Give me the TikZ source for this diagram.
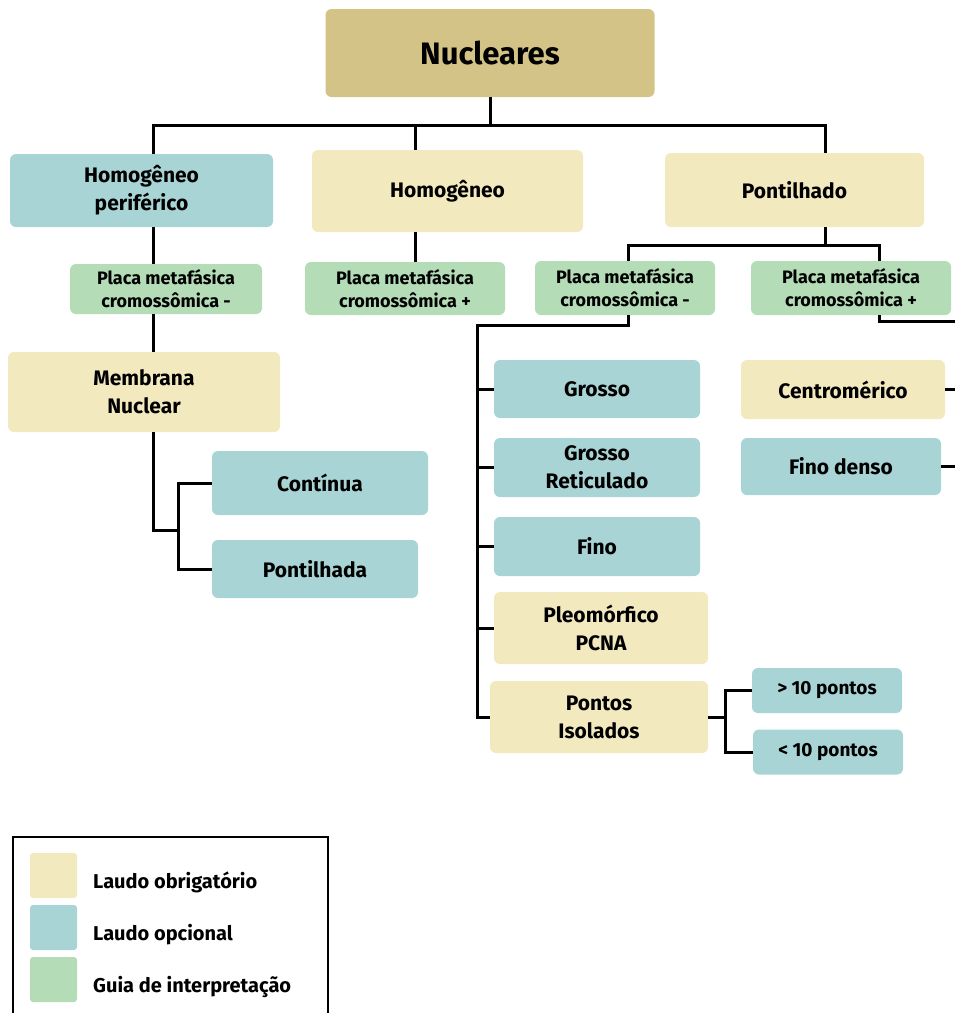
\documentclass[tikz,border=0pt]{standalone}
\usepackage{fontspec}
\setmainfont{Fira Sans}
\usetikzlibrary{calc}

\definecolor{nucfill}{HTML}{D4C387}
\definecolor{obrigfill}{HTML}{F3E9BE}
\definecolor{opcfill}{HTML}{A9D4D6}
\definecolor{guiafill}{HTML}{B3DCB7}

\tikzset{
  sz/.style 2 args={minimum width=#1pt,minimum height=#2pt},
  box/.style={rounded corners=6pt,align=center,inner sep=0pt,
    font=\bfseries\fontsize{21}{28}\selectfont},
  nucbox/.style={box,fill=nucfill,font=\bfseries\fontsize{31}{36}\selectfont},
  obrig/.style={box,fill=obrigfill},
  opc/.style={box,fill=opcfill},
  guia/.style={box,fill=guiafill,font=\bfseries\fontsize{18}{23}\selectfont},
  small/.style={font=\bfseries\fontsize{19}{22}\selectfont},
  swatch/.style={rounded corners=3pt,inner sep=0pt,sz={47}{45}},
  legtext/.style={anchor=base west,inner sep=0pt,font=\bfseries\fontsize{20}{22}\selectfont},
  conn/.style={line width=3pt}
}

\begin{document}
\begin{tikzpicture}[x=1pt,y=-1pt]
  \useasboundingbox[fill=white] (0,0) rectangle (955,1013);

  % columns and forks of the connectors
  \coordinate (xl) at (153,0);
  \coordinate (xm) at (415,0);
  \coordinate (xr) at (825,0);
  \coordinate (xp1) at (628,0);
  \coordinate (xp2) at (879,0);
  \coordinate (fork1) at (178,530);
  \coordinate (spine) at (477,325);
  \coordinate (edge) at (955,321);

  % boxes
  \node[nucbox,sz={329}{88}] (nuc) at (490,53) {Nucleares};

  \node[opc,sz={263}{73}] (hper) at (141.5,190.5) {Homogêneo\\periférico};
  \node[obrig,sz={271}{82}] (hom) at (447.5,191) {Homogêneo};
  \node[obrig,sz={259}{74}] (pont) at (794.5,190) {Pontilhado};

  \node[guia,sz={192}{50}] (pm1) at (166,289) {Placa metafásica\\cromossômica -};
  \node[guia,sz={200}{53}] (pp1) at (405,288.5) {Placa metafásica\\cromossômica +};
  \node[guia,sz={180}{54}] (pm2) at (625,288) {Placa metafásica\\cromossômica -};
  \node[guia,sz={200}{54}] (pp2) at (851,288) {Placa metafásica\\cromossômica +};

  \node[obrig,sz={272}{80}] (memb) at (144,392) {Membrana\\Nuclear};
  \node[opc,sz={216}{64}] (cont) at (320,483) {Contínua};
  \node[opc,sz={206}{58}] (pontd) at (315,569) {Pontilhada};

  \node[opc,sz={206}{58}] (gro) at (597,389) {Grosso};
  \node[opc,sz={206}{59}] (groret) at (597,467.5) {Grosso\\Reticulado};
  \node[opc,sz={206}{59}] (fino) at (597,546.5) {Fino};
  \node[obrig,sz={214}{72}] (pleo) at (601,628) {Pleomórfico\\PCNA};
  \node[obrig,sz={218}{72}] (ptiso) at (599,717) {Pontos\\Isolados};

  \node[obrig,sz={204}{59}] (centr) at (843,389.5) {Centromérico};
  \node[opc,sz={200}{57}] (finod) at (841,466.5) {Fino denso};

  \node[opc,small,sz={150}{45}] (gt10) at (827,690.5) {> 10 pontos};
  \node[opc,small,sz={150}{45}] (lt10) at (828,752) {< 10 pontos};

  % connectors
  \draw[conn] (nuc.south) -- ++(0,28) coordinate (top);
  \draw[conn] (hper.north -| xl) |- (top) -| (pont.north -| xr);
  \draw[conn] (hom.north -| xm) -- (top -| xm);

  \draw[conn] (hper.south -| xl) -- (pm1.north -| xl);
  \draw[conn] (pm1.south -| xl) -- (memb.north -| xl);
  \draw[conn] (memb.south -| xl) |- (fork1);
  \draw[conn] (cont.west) -| (fork1) |- (pontd.west);

  \draw[conn] (hom.south -| xm) -- (pp1.north -| xm);

  \draw[conn] (pont.south -| xr) -- ++(0,18) coordinate (split);
  \draw[conn] (pm2.north -| xp1) |- (split) -| (pp2.north -| xp2);

  \draw[conn] (pm2.south -| xp1) |- (spine) -- (spine |- ptiso.west) -- (ptiso.west);
  \foreach \n in {gro,groret,fino,pleo}
    \draw[conn] (\n.west -| spine) -- (\n.west);

  \draw[conn] (pp2.south -| xp2) |- (edge);
  \draw[conn] (centr.east) -- (centr.east -| edge);
  \draw[conn] (finod.east) -- (finod.east -| edge);

  \draw[conn] (ptiso.east) -- ++(17,0) coordinate (fork2);
  \draw[conn] (gt10.west) -| (fork2) |- (lt10.west);

  % legend
  \draw[line width=1.8pt] (13,1013) |- (328,837) -- (328,1013);
  \node[swatch,fill=obrigfill] (sw1) at (53.5,875.5) {};
  \node[swatch,fill=opcfill] (sw2) at (53.5,927.5) {};
  \node[swatch,fill=guiafill] (sw3) at (53.5,979.5) {};
  \node[legtext] (lg1) at (93,888) {Laudo obrigatório};
  \node[legtext] (lg2) at (93,940) {Laudo opcional};
  \node[legtext] (lg3) at (93,992) {Guia de interpretação};
\end{tikzpicture}
\end{document}
